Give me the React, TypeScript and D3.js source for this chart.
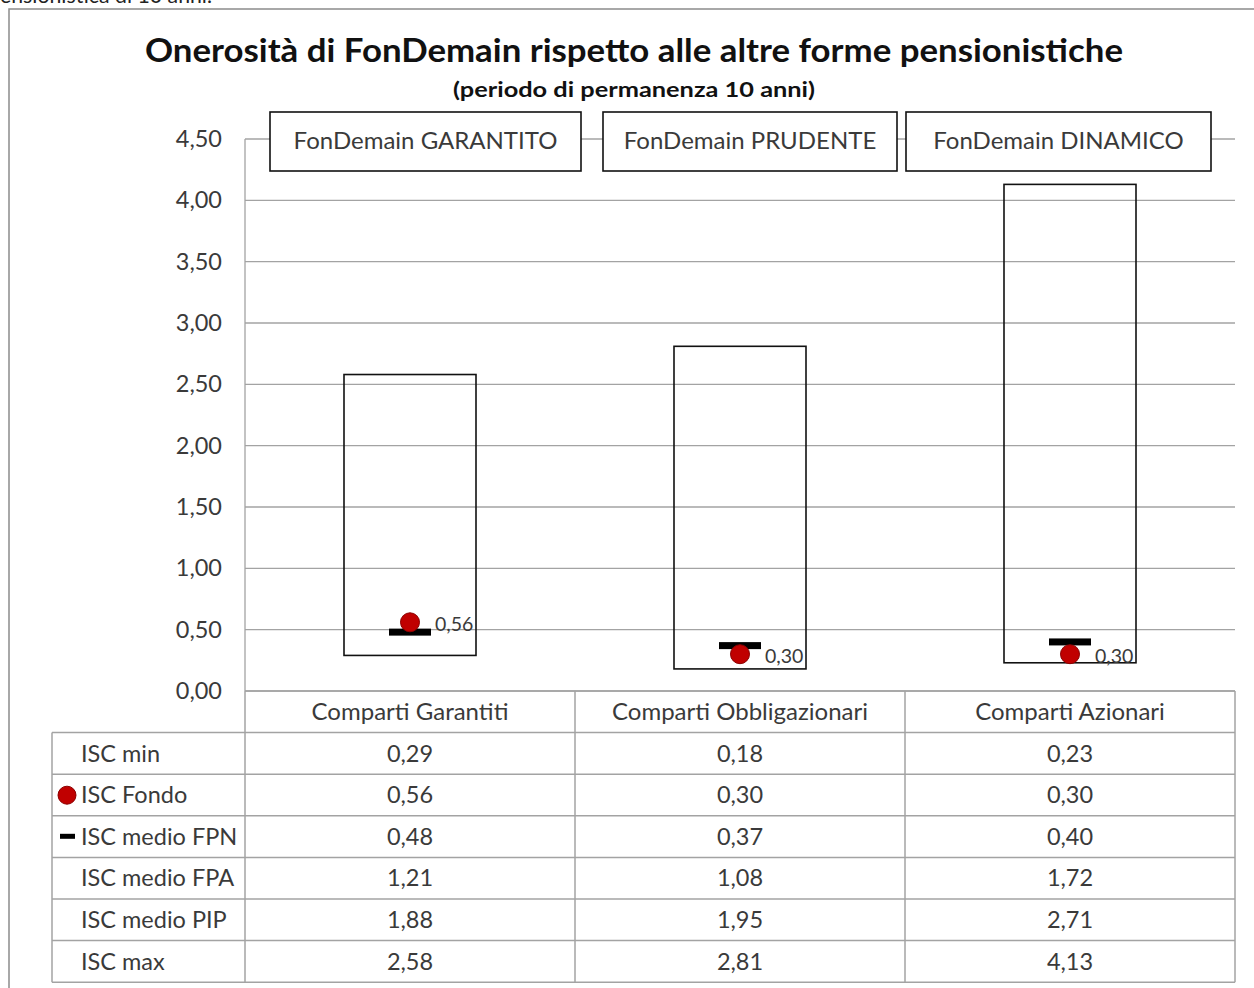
import * as d3 from 'd3';

const categories = ['Comparti Garantiti', 'Comparti Obbligazionari', 'Comparti Azionari'];
const fundNames = ['FonDemain GARANTITO', 'FonDemain PRUDENTE', 'FonDemain DINAMICO'];
const iscMin = [0.29, 0.18, 0.23];
const iscFondo = [0.56, 0.3, 0.3];
const iscFPN = [0.48, 0.37, 0.4];
const iscFPA = [1.21, 1.08, 1.72];
const iscPIP = [1.88, 1.95, 2.71];
const iscMax = [2.58, 2.81, 4.13];
const yTicks = [0, 0.5, 1, 1.5, 2, 2.5, 3, 3.5, 4, 4.5];
const rowLabels = ['ISC min', 'ISC Fondo', 'ISC medio FPN', 'ISC medio FPA', 'ISC medio PIP', 'ISC max'];

const W = 1254;
const H = 988;
const FONT = 'Lato, "Open Sans", sans-serif';
const left = 245;
const right = 1235;
const top = 139;
const bottom = 691;
const rowH = 41.6;
const labelLeft = 52;
const gridColor = '#a3a3a3';
const textColor = '#3a3a3a';
const tableFont = 23.5;

const it = d3.formatLocale({ decimal: ',', thousands: '.', grouping: [3], currency: ['€', ''] });
const fmt = it.format('.2f');

// fixed boxes with fund names, placed over the top gridline
const boxes = [
  { x: 270, w: 311 },
  { x: 603, w: 294 },
  { x: 906, w: 305 },
];

const App = () => {
  const x = d3.scaleBand<string>().domain(categories).range([left, right]).padding(0);
  const y = d3.scaleLinear().domain([0, 4.5]).range([bottom, top]);
  const bw = x.bandwidth() * 0.4;
  const rows = [iscMin, iscFondo, iscFPN, iscFPA, iscPIP, iscMax];
  const tableTop = bottom + rowH;

  return (
    <svg width={W} height={H} style={{ position: 'absolute', left: 0, top: 0, background: '#fff' }} fontFamily={FONT}>
      <text x={0} y={3} fontSize={22} fill="#222" textLength={212} lengthAdjust="spacingAndGlyphs">ensionistica di 10 anni.</text>
      <rect x={9} y={9} width={W + 10} height={H + 10} fill="#fff" stroke="#8c8c8c" strokeWidth={1.5} />

      <text x={634} y={62} textAnchor="middle" fontSize={32} fontWeight="bold" fill="#111" textLength={978} lengthAdjust="spacingAndGlyphs">
        Onerosità di FonDemain rispetto alle altre forme pensionistiche
      </text>
      <text x={634} y={97} textAnchor="middle" fontSize={21} fontWeight="bold" fill="#111" textLength={362} lengthAdjust="spacingAndGlyphs">
        (periodo di permanenza 10 anni)
      </text>

      {yTicks.map(t => (
        <g key={t}>
          <line x1={left} x2={right} y1={y(t)} y2={y(t)} stroke={gridColor} strokeWidth={1.3} />
          <text x={222} y={y(t) + 8} textAnchor="end" fontSize={tableFont} fill={textColor}>{fmt(t)}</text>
        </g>
      ))}
      <line x1={left} x2={left} y1={top} y2={bottom} stroke={gridColor} strokeWidth={1.3} />

      {categories.map((c, i) => {
        const cx = x(c)! + x.bandwidth() / 2;
        return (
          <g key={c}>
            <rect x={cx - bw / 2} y={y(iscMax[i])} width={bw} height={y(iscMin[i]) - y(iscMax[i])} fill="none" stroke="#111" strokeWidth={1.6} />
            <rect x={cx - 21} y={y(iscFPN[i]) - 3.5} width={42} height={7} fill="#000" />
            <circle cx={cx} cy={y(iscFondo[i])} r={9.5} fill="#c00000" stroke="#8b0000" strokeWidth={1} />
            <text x={cx + 25} y={y(iscFondo[i]) + 9} fontSize={19.5} fill={textColor}>{fmt(iscFondo[i])}</text>
          </g>
        );
      })}

      {boxes.map((b, i) => (
        <g key={fundNames[i]}>
          <rect x={b.x} y={112} width={b.w} height={59} fill="#fff" stroke="#111" strokeWidth={1.6} />
          <text x={b.x + b.w / 2} y={149} textAnchor="middle" fontSize={24} fill={textColor}>{fundNames[i]}</text>
        </g>
      ))}

      {/* data table */}
      <g stroke={gridColor} strokeWidth={1.5} fill="none">
        <line x1={left} x2={right} y1={bottom} y2={bottom} />
        {rows.map((_, r) => (
          <line key={r} x1={labelLeft} x2={right} y1={tableTop + r * rowH} y2={tableTop + r * rowH} />
        ))}
        <line x1={labelLeft} x2={right} y1={tableTop + rows.length * rowH} y2={tableTop + rows.length * rowH} />
        <line x1={labelLeft} x2={labelLeft} y1={tableTop} y2={tableTop + rows.length * rowH} />
        {categories.map(c => (
          <line key={c} x1={x(c)!} x2={x(c)!} y1={bottom} y2={tableTop + rows.length * rowH} />
        ))}
        <line x1={right} x2={right} y1={bottom} y2={tableTop + rows.length * rowH} />
      </g>
      {categories.map(c => (
        <text key={c} x={x(c)! + x.bandwidth() / 2} y={bottom + 29} textAnchor="middle" fontSize={24} fill={textColor}>{c}</text>
      ))}
      {rows.map((vals, r) => {
        const yy = tableTop + r * rowH + 29;
        return (
          <g key={rowLabels[r]}>
            {r === 1 && <circle cx={67} cy={yy - 8} r={9} fill="#c00000" stroke="#8b0000" />}
            {r === 2 && <rect x={60} y={yy - 11} width={15} height={5} fill="#000" />}
            <text x={81} y={yy} fontSize={tableFont} fill={textColor}>{rowLabels[r]}</text>
            {vals.map((v, i) => (
              <text key={i} x={x(categories[i])! + x.bandwidth() / 2} y={yy} textAnchor="middle" fontSize={tableFont} fill={textColor}>{fmt(v)}</text>
            ))}
          </g>
        );
      })}
    </svg>
  );
};

export default App;
